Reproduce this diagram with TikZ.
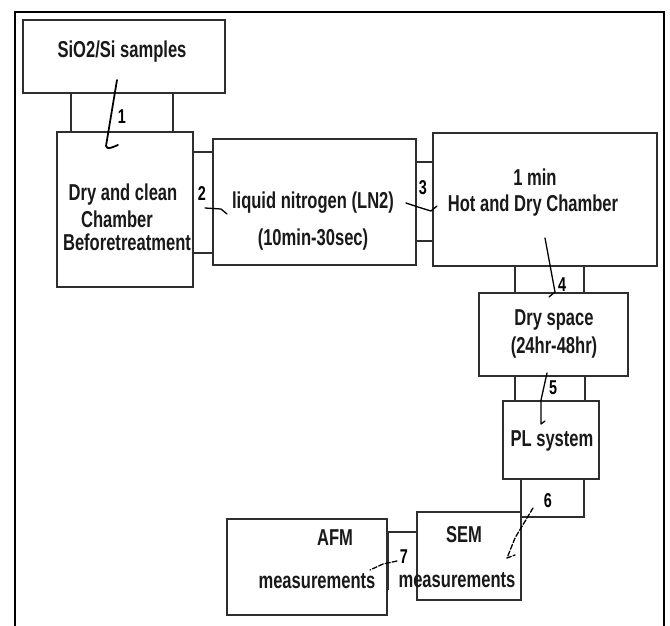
\documentclass[tikz,border=0pt]{standalone}
\usepackage{fontspec}
\usepackage{tikz}
\usetikzlibrary{positioning}
\newfontfamily\flowfont{Liberation Sans Bold}[FakeStretch=0.72]
\definecolor{linegray}{HTML}{2E2E2E}
\tikzset{
  boxnode/.style={draw=linegray, fill=white, line width=1.8pt, inner sep=0pt, outer sep=0pt, anchor=north west},
  tubenode/.style={boxnode},
  labelnode/.style={font=\flowfont\fontsize{23}{26}\selectfont, inner sep=0pt, text=black!90},
  stepnum/.style={font=\flowfont\fontsize{20}{22}\selectfont, inner sep=0pt},
  squiggle/.style={line width=1.3pt, draw=black, line join=round, line cap=round},
  dashsquiggle/.style={squiggle, dash pattern=on 5pt off 2pt},
  frameline/.style={line width=2.2pt, draw=black}
}

\begin{document}
\begin{tikzpicture}[x=1pt, y=-1pt]
  \useasboundingbox (0,0) rectangle (670,626);
  \draw[frameline] (15,626) -- (15,12) -- (664,12) -- (664,626);
  % connecting tubes first, boxes on top
  \node[tubenode, minimum width=102pt, minimum height=39pt] (tube1) at (71,93) {};
  \node[tubenode, minimum width=20pt, minimum height=101pt] (tube2) at (193,152) {};
  \node[tubenode, minimum width=18pt, minimum height=79pt] (tube3) at (415,162) {};
  \node[tubenode, minimum width=69pt, minimum height=27pt] (tube4) at (515,266) {};
  \node[tubenode, minimum width=70pt, minimum height=25pt] (tube5) at (515,376) {};
  \node[tubenode, minimum width=63pt, minimum height=38pt] (tube6) at (521,479) {};
  \node[tubenode, draw=none, minimum width=29pt, minimum height=58pt] (tube7) at (388,532) {};
  \draw[draw=linegray, line width=1.8pt] (tube7.south west) -- (tube7.north west) -- (tube7.north east);
  % process boxes
  \node[boxnode, minimum width=202pt, minimum height=73pt] (samples) at (23,20) {};
  \node[boxnode, minimum width=136pt, minimum height=155pt] (clean) at (57,132) {};
  \node[boxnode, minimum width=203pt, minimum height=126pt] (nitrogen) at (213,139) {};
  \node[boxnode, minimum width=224pt, minimum height=133pt] (hotdry) at (433,133) {};
  \node[boxnode, minimum width=149pt, minimum height=83pt] (dryspace) at (479,293) {};
  \node[boxnode, minimum width=96pt, minimum height=78pt] (pl) at (503,401) {};
  \node[boxnode, minimum width=104pt, minimum height=88pt] (sem) at (417,512) {};
  \node[boxnode, minimum width=160pt, minimum height=96pt] (afm) at (227,519) {};
  % texts
  \node[labelnode] (samplestxt) at (122,52) {SiO2/Si samples};
  \node[labelnode] (cleantxta) at (123,195) {Dry and clean};
  \node[labelnode] (cleantxtb) at (117,219) {Chamber};
  \node[labelnode] (cleantxtc) at (127,242) {Beforetreatment};
  \node[labelnode] (nitrotxta) at (313,203) {liquid nitrogen (LN2)};
  \node[labelnode] (nitrotxtb) at (313,240) {(10min-30sec)};
  \node[labelnode] (hottxta) at (535,177) {1 min};
  \node[labelnode] (hottxtb) at (533,206) {Hot and Dry Chamber};
  \node[labelnode] (spacetxta) at (554,320) {Dry space};
  \node[labelnode] (spacetxtb) at (554,348) {(24hr-48hr)};
  \node[labelnode] (pltxt) at (552,441) {PL system};
  \node[labelnode] (semtxta) at (464,535) {SEM};
  \node[labelnode] (semtxtb) at (457,580) {measurements};
  \node[labelnode] (afmtxta) at (335,538) {AFM};
  \node[labelnode] (afmtxtb) at (317,581) {measurements};
  % step numbers
  \node[stepnum] (n1) at (122,117) {1};
  \node[stepnum] (n2) at (202,194) {2};
  \node[stepnum] (n3) at (423,188) {3};
  \node[stepnum] (n4) at (562,285) {4};
  \node[stepnum] (n5) at (553,388) {5};
  \node[stepnum] (n6) at (548,501) {6};
  \node[stepnum] (n7) at (404,557) {7};
  % hand drawn step arrows
  \coordinate (a1s) at (117,80);  \coordinate (a1e) at (118,145);
  \coordinate (a2s) at (205,208); \coordinate (a2e) at (227,214);
  \coordinate (a3s) at (406,203); \coordinate (a3e) at (437,206);
  \coordinate (a4s) at (545,238); \coordinate (a4e) at (549,297);
  \coordinate (a5s) at (547,373); \coordinate (a5e) at (545,421);
  \coordinate (a6s) at (533,508); \coordinate (a6e) at (515,555);
  \coordinate (a7s) at (397,561); \coordinate (a7e) at (370,570);
  \draw[squiggle, line width=1.8pt] (a1s) -- (106,146) to[out=-80,in=200] (a1e);
  \draw[squiggle] (a2s) -- (221,209) -- (a2e);
  \draw[squiggle] (a3s) -- (418,207) -- (431,211) -- (a3e);
  \draw[squiggle] (a4s) -- (555,292) -- (a4e);
  \draw[squiggle] (a5s) -- (541,400) -- (541,424) -- (a5e);
  \draw[dashsquiggle] (a6s) -- (515,538) -- (507,558) -- (a6e);
  \draw[dashsquiggle] (a7s) -- (383,564) -- (a7e);
\end{tikzpicture}
\end{document}
